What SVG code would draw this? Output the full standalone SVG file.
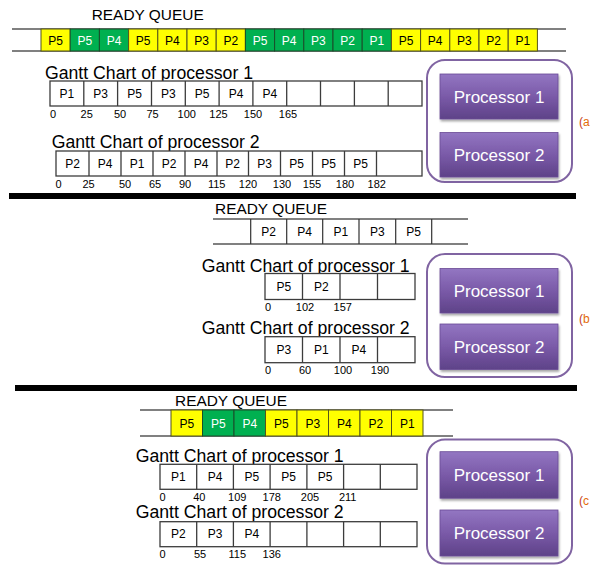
<svg xmlns="http://www.w3.org/2000/svg" width="592" height="565" viewBox="0 0 592 565">
<defs>
<linearGradient id="pg" x1="0" y1="0" x2="0" y2="1">
<stop offset="0" stop-color="#9376c2"/>
<stop offset="0.5" stop-color="#7a5aa8"/>
<stop offset="1" stop-color="#5e4288"/>
</linearGradient>
<filter id="sh" x="-10%" y="-10%" width="130%" height="140%">
<feDropShadow dx="1" dy="2" stdDeviation="1.2" flood-color="#000" flood-opacity="0.35"/>
</filter>
</defs>
<style>
.t{font-family:"Liberation Sans",Arial,sans-serif;fill:#000}
.title{font-size:17.5px}
.rq{font-size:15.5px}
.cell{font-size:12px;text-anchor:middle}
.num{font-size:11px;text-anchor:middle}
.qline{stroke:#808080;stroke-width:2;fill:none}
.qv{stroke:#333;stroke-width:1.2}
.y{fill:#ffff00;stroke:#55551a;stroke-width:1}
.g{fill:#00b050;stroke:#1a4d2a;stroke-width:1}
.wt{fill:#fff}
.gb{fill:#fff;stroke:#3c3c3c;stroke-width:1.3}
.gv{stroke:#3c3c3c;stroke-width:1.3}
.cont{fill:#fff;stroke:#8064a2;stroke-width:2}
.btn{fill:url(#pg);stroke:#6a4c96;stroke-width:0.8;filter:url(#sh)}
.bt{font-family:"Liberation Sans",Arial,sans-serif;font-size:17px;fill:#fff;text-anchor:middle}
.side{font-family:"Liberation Sans",Arial,sans-serif;font-size:12px}
.sep{fill:#000}
</style>

<!-- Section (a) -->
<g id="queue-a">
<text class="t rq" x="91.7" y="20" textLength="112" lengthAdjust="spacingAndGlyphs">READY QUEUE</text>
<line class="qline" x1="12" y1="29" x2="566" y2="29"/>
<line class="qline" x1="12" y1="51" x2="566" y2="51"/>
<rect class="y" x="41" y="29" width="29.2" height="22"/>
<rect class="g" x="70.2" y="29" width="29.2" height="22"/>
<rect class="g" x="99.4" y="29" width="29.2" height="22"/>
<rect class="y" x="128.6" y="29" width="29.2" height="22"/>
<rect class="y" x="157.8" y="29" width="29.2" height="22"/>
<rect class="y" x="187" y="29" width="29.2" height="22"/>
<rect class="y" x="216.2" y="29" width="29.2" height="22"/>
<rect class="g" x="245.4" y="29" width="29.2" height="22"/>
<rect class="g" x="274.6" y="29" width="29.2" height="22"/>
<rect class="g" x="303.8" y="29" width="29.2" height="22"/>
<rect class="g" x="333" y="29" width="29.2" height="22"/>
<rect class="g" x="362.2" y="29" width="29.2" height="22"/>
<rect class="y" x="391.4" y="29" width="29.2" height="22"/>
<rect class="y" x="420.6" y="29" width="29.2" height="22"/>
<rect class="y" x="449.8" y="29" width="29.2" height="22"/>
<rect class="y" x="479" y="29" width="29.2" height="22"/>
<rect class="y" x="508.2" y="29" width="29.2" height="22"/>
<text class="t cell" x="55.6" y="44.5">P5</text>
<text class="t cell wt" x="84.8" y="44.5">P5</text>
<text class="t cell wt" x="114" y="44.5">P4</text>
<text class="t cell" x="143.2" y="44.5">P5</text>
<text class="t cell" x="172.4" y="44.5">P4</text>
<text class="t cell" x="201.6" y="44.5">P3</text>
<text class="t cell" x="230.8" y="44.5">P2</text>
<text class="t cell wt" x="260" y="44.5">P5</text>
<text class="t cell wt" x="289.2" y="44.5">P4</text>
<text class="t cell wt" x="318.4" y="44.5">P3</text>
<text class="t cell wt" x="347.6" y="44.5">P2</text>
<text class="t cell wt" x="376.8" y="44.5">P1</text>
<text class="t cell" x="406" y="44.5">P5</text>
<text class="t cell" x="435.2" y="44.5">P4</text>
<text class="t cell" x="464.4" y="44.5">P3</text>
<text class="t cell" x="493.6" y="44.5">P2</text>
<text class="t cell" x="522.8" y="44.5">P1</text>
</g>

<g id="gantt-a1">
<text class="t title" x="45" y="79" textLength="208" lengthAdjust="spacingAndGlyphs">Gantt Chart of processor 1</text>
<rect class="gb" x="50" y="81" width="372" height="25"/>
<path class="gv" d="M83.8 81V106M117.6 81V106M151.5 81V106M185.3 81V106M219.1 81V106M252.9 81V106M286.7 81V106M320.5 81V106M354.4 81V106M388.2 81V106"/>
<text class="t cell" x="66.9" y="97.5">P1</text>
<text class="t cell" x="100.7" y="97.5">P3</text>
<text class="t cell" x="134.5" y="97.5">P5</text>
<text class="t cell" x="168.4" y="97.5">P3</text>
<text class="t cell" x="202.2" y="97.5">P5</text>
<text class="t cell" x="236" y="97.5">P4</text>
<text class="t cell" x="269.8" y="97.5">P4</text>
<text class="t num" x="53" y="117.5">0</text>
<text class="t num" x="86.7" y="117.5">25</text>
<text class="t num" x="120" y="117.5">50</text>
<text class="t num" x="152.5" y="117.5">75</text>
<text class="t num" x="186.7" y="117.5">100</text>
<text class="t num" x="218.5" y="117.5">125</text>
<text class="t num" x="253" y="117.5">150</text>
<text class="t num" x="288" y="117.5">165</text>
</g>

<g id="gantt-a2">
<text class="t title" x="51.7" y="147.5" textLength="208" lengthAdjust="spacingAndGlyphs">Gantt Chart of processor 2</text>
<rect class="gb" x="56" y="151" width="366" height="25"/>
<path class="gv" d="M89 151V176M121 151V176M153 151V176M185 151V176M217 151V176M248.5 151V176M280.5 151V176M312.5 151V176M344.5 151V176M376.5 151V176"/>
<text class="t cell" x="72.5" y="167.5">P2</text>
<text class="t cell" x="105" y="167.5">P4</text>
<text class="t cell" x="137" y="167.5">P1</text>
<text class="t cell" x="169" y="167.5">P2</text>
<text class="t cell" x="201" y="167.5">P4</text>
<text class="t cell" x="232.7" y="167.5">P2</text>
<text class="t cell" x="264.5" y="167.5">P3</text>
<text class="t cell" x="296.5" y="167.5">P5</text>
<text class="t cell" x="328.5" y="167.5">P5</text>
<text class="t cell" x="360.5" y="167.5">P5</text>
<text class="t num" x="58.5" y="187.5">0</text>
<text class="t num" x="88.5" y="187.5">25</text>
<text class="t num" x="125" y="187.5">50</text>
<text class="t num" x="155" y="187.5">65</text>
<text class="t num" x="185" y="187.5">90</text>
<text class="t num" x="216.7" y="187.5">115</text>
<text class="t num" x="248" y="187.5">120</text>
<text class="t num" x="282" y="187.5">130</text>
<text class="t num" x="312" y="187.5">155</text>
<text class="t num" x="345" y="187.5">180</text>
<text class="t num" x="376.7" y="187.5">182</text>
</g>

<g id="processors-a">
<rect class="cont" x="427" y="60" width="145" height="122" rx="18"/>
<g id="proc-a1"><rect class="btn" x="440" y="74" width="118" height="45"/><text class="bt" x="499" y="102.5">Processor 1</text></g>
<g id="proc-a2"><rect class="btn" x="440" y="132.5" width="118" height="44.5"/><text class="bt" x="499" y="160.5">Processor 2</text></g>
</g>
<text class="side" x="579" y="126"><tspan fill="#c0392b">(</tspan><tspan fill="#e36c09">a</tspan></text>

<rect class="sep" x="9" y="193" width="567" height="6"/>

<!-- Section (b) -->
<g id="queue-b">
<text class="t rq" x="215" y="214" textLength="112" lengthAdjust="spacingAndGlyphs">READY QUEUE</text>
<line class="qline" x1="213" y1="219" x2="468" y2="219"/>
<line class="qline" x1="213" y1="244" x2="468" y2="244"/>
<path class="qv" d="M250.7 219V244M286.7 219V244M322.7 219V244M359 219V244M395.7 219V244M431.7 219V244"/>
<text class="t cell" x="268.7" y="236">P2</text>
<text class="t cell" x="304.7" y="236">P4</text>
<text class="t cell" x="340.9" y="236">P1</text>
<text class="t cell" x="377.4" y="236">P3</text>
<text class="t cell" x="413.7" y="236">P5</text>
</g>

<g id="gantt-b1">
<text class="t title" x="201.7" y="271.7" textLength="208" lengthAdjust="spacingAndGlyphs">Gantt Chart of processor 1</text>
<rect class="gb" x="265" y="273.5" width="150" height="26"/>
<path class="gv" d="M302.5 273.5V299.5M340 273.5V299.5M377.5 273.5V299.5"/>
<text class="t cell" x="283.75" y="290.5">P5</text>
<text class="t cell" x="321.25" y="290.5">P2</text>
<text class="t num" x="268" y="311">0</text>
<text class="t num" x="305" y="311">102</text>
<text class="t num" x="342.7" y="311">157</text>
</g>

<g id="gantt-b2">
<text class="t title" x="201.7" y="334.3" textLength="208" lengthAdjust="spacingAndGlyphs">Gantt Chart of processor 2</text>
<rect class="gb" x="265" y="336.7" width="150" height="26"/>
<path class="gv" d="M302.5 336.7V362.7M340 336.7V362.7M377.5 336.7V362.7"/>
<text class="t cell" x="283.75" y="353.7">P3</text>
<text class="t cell" x="321.25" y="353.7">P1</text>
<text class="t cell" x="358.75" y="353.7">P4</text>
<text class="t num" x="268" y="374">0</text>
<text class="t num" x="305" y="374">60</text>
<text class="t num" x="343" y="374">100</text>
<text class="t num" x="380" y="374">190</text>
</g>

<g id="processors-b">
<rect class="cont" x="427" y="254" width="145" height="123" rx="18"/>
<g id="proc-b1"><rect class="btn" x="440" y="268.5" width="118" height="44.5"/><text class="bt" x="499" y="296.5">Processor 1</text></g>
<g id="proc-b2"><rect class="btn" x="440" y="324" width="118" height="45.5"/><text class="bt" x="499" y="352.5">Processor 2</text></g>
</g>
<text class="side" x="579" y="323"><tspan fill="#c0392b">(</tspan><tspan fill="#e36c09">b</tspan></text>

<rect class="sep" x="15" y="385" width="562" height="6"/>

<!-- Section (c) -->
<g id="queue-c">
<text class="t rq" x="175" y="406" textLength="112" lengthAdjust="spacingAndGlyphs">READY QUEUE</text>
<line class="qline" x1="140" y1="410" x2="453" y2="410"/>
<line class="qline" x1="140" y1="436" x2="453" y2="436"/>
<rect class="y" x="171" y="410" width="31.5" height="26"/>
<rect class="g" x="202.5" y="410" width="31.5" height="26"/>
<rect class="g" x="234" y="410" width="31.5" height="26"/>
<rect class="y" x="265.5" y="410" width="31.5" height="26"/>
<rect class="y" x="297" y="410" width="31.5" height="26"/>
<rect class="y" x="328.5" y="410" width="31.5" height="26"/>
<rect class="y" x="360" y="410" width="31.5" height="26"/>
<rect class="y" x="391.5" y="410" width="31.5" height="26"/>
<text class="t cell" x="186.75" y="427.5">P5</text>
<text class="t cell wt" x="218.25" y="427.5">P5</text>
<text class="t cell wt" x="249.75" y="427.5">P4</text>
<text class="t cell" x="281.25" y="427.5">P5</text>
<text class="t cell" x="312.75" y="427.5">P3</text>
<text class="t cell" x="344.25" y="427.5">P4</text>
<text class="t cell" x="375.75" y="427.5">P2</text>
<text class="t cell" x="407.25" y="427.5">P1</text>
</g>

<g id="gantt-c1">
<text class="t title" x="135.7" y="462.3" textLength="208" lengthAdjust="spacingAndGlyphs">Gantt Chart of processor 1</text>
<rect class="gb" x="160" y="464.3" width="257" height="25"/>
<path class="gv" d="M196.7 464.3V489.3M233.4 464.3V489.3M270.1 464.3V489.3M306.9 464.3V489.3M343.6 464.3V489.3M380.3 464.3V489.3"/>
<text class="t cell" x="178.4" y="480.8">P1</text>
<text class="t cell" x="215" y="480.8">P4</text>
<text class="t cell" x="251.8" y="480.8">P5</text>
<text class="t cell" x="288.5" y="480.8">P5</text>
<text class="t cell" x="325.2" y="480.8">P5</text>
<text class="t num" x="162.5" y="500.7">0</text>
<text class="t num" x="199.3" y="500.7">40</text>
<text class="t num" x="237.3" y="500.7">109</text>
<text class="t num" x="271.7" y="500.7">178</text>
<text class="t num" x="310" y="500.7">205</text>
<text class="t num" x="347.7" y="500.7">211</text>
</g>

<g id="gantt-c2">
<text class="t title" x="135.7" y="517.7" textLength="208" lengthAdjust="spacingAndGlyphs">Gantt Chart of processor 2</text>
<rect class="gb" x="160" y="521.7" width="257" height="25"/>
<path class="gv" d="M196.7 521.7V546.7M233.4 521.7V546.7M270.1 521.7V546.7M306.9 521.7V546.7M343.6 521.7V546.7M380.3 521.7V546.7"/>
<text class="t cell" x="178.4" y="538.2">P2</text>
<text class="t cell" x="215" y="538.2">P3</text>
<text class="t cell" x="251.8" y="538.2">P4</text>
<text class="t num" x="162.5" y="558">0</text>
<text class="t num" x="200" y="558">55</text>
<text class="t num" x="237.3" y="558">115</text>
<text class="t num" x="271.7" y="558">136</text>
</g>

<g id="processors-c">
<rect class="cont" x="427" y="439.5" width="145" height="124" rx="18"/>
<g id="proc-c1"><rect class="btn" x="440" y="451.7" width="118" height="46.5"/><text class="bt" x="499" y="481">Processor 1</text></g>
<g id="proc-c2"><rect class="btn" x="440" y="510" width="118" height="46"/><text class="bt" x="499" y="539">Processor 2</text></g>
</g>
<text class="side" x="579" y="505"><tspan fill="#c0392b">(</tspan><tspan fill="#e36c09">c</tspan></text>
</svg>
